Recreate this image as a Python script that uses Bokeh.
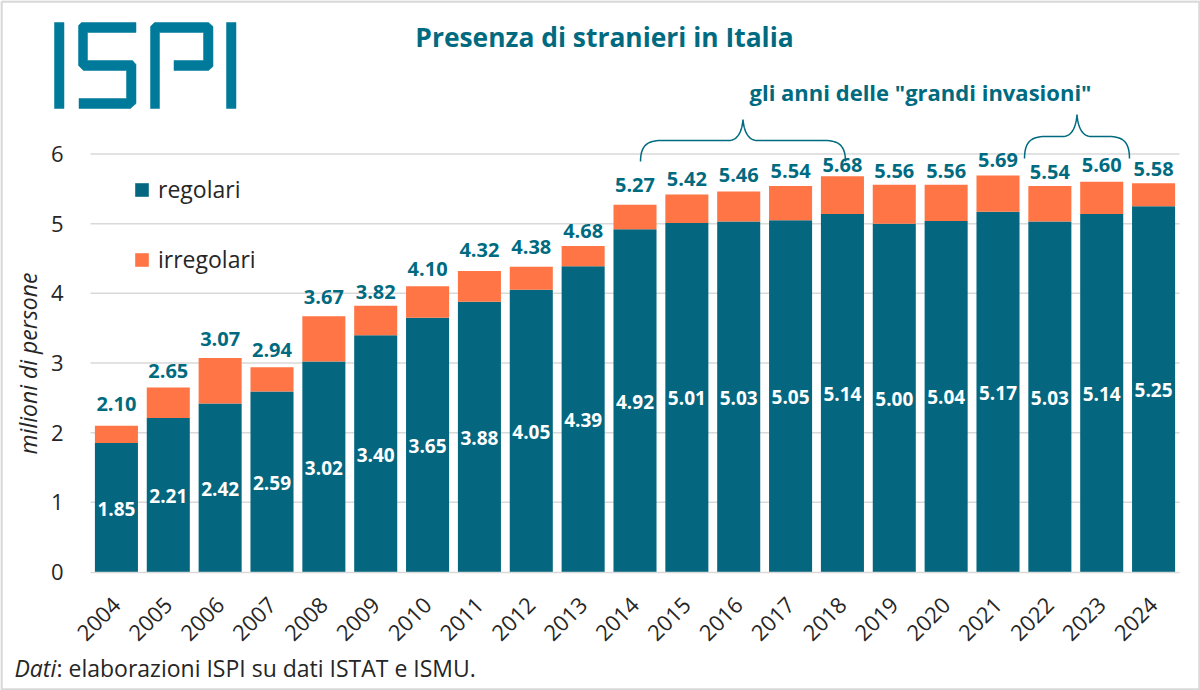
from bokeh.core.properties import value
from bokeh.embed import file_html
from bokeh.resources import INLINE
from bokeh.plotting import figure
from bokeh.models import (ColumnDataSource, FixedTicker, Label, LabelSet, Legend, LegendItem,
                          LinearAxis, PolyAnnotation, Range1d)

anni = [2004, 2005, 2006, 2007, 2008, 2009, 2010, 2011, 2012, 2013, 2014,
        2015, 2016, 2017, 2018, 2019, 2020, 2021, 2022, 2023, 2024]
regolari = [1.85, 2.21, 2.42, 2.59, 3.02, 3.40, 3.65, 3.88, 4.05, 4.39, 4.92,
            5.01, 5.03, 5.05, 5.14, 5.00, 5.04, 5.17, 5.03, 5.14, 5.25]
totale = [2.10, 2.65, 3.07, 2.94, 3.67, 3.82, 4.10, 4.32, 4.38, 4.68, 5.27,
          5.42, 5.46, 5.54, 5.68, 5.56, 5.56, 5.69, 5.54, 5.60, 5.58]
irregolari = [round(t - r, 2) for t, r in zip(totale, regolari)]
tacche_y = [0, 1, 2, 3, 4, 5, 6]
# hand-placed distance of each total label above its bar, in pixels
stacco_totale = [22, 16, 19, 17, 19, 14, 17, 21, 20, 15, 20, 15, 17, 15, 11, 14, 14, 16, 14, 17, 14]

TEAL = "#04677f"
ORANGE = "#ff7545"
LOGO = "#007a9a"
TITLE = "#006b80"
GRID = "#d9d9d9"
INK = "#262626"
FONT = "Open Sans"

src = ColumnDataSource(dict(
    anno=anni, regolari=regolari, irregolari=irregolari, totale=totale,
    mezzo=[r / 2 for r in regolari],
    stacco=stacco_totale,
    lab_r=[f"{v:.2f}" for v in regolari],
    lab_t=[f"{v:.2f}" for v in totale],
))

W, H = 1200, 690
# plot area of the original, in page pixels; the frame spans the whole canvas
# so that logo, title and braces can sit around the axes.
L, R, T, B = 90, 1179, 153.5, 571.5
xu = (R - L) / 21
yu = (B - T) / 6
p = figure(width=W, height=H, output_backend="svg", toolbar_location=None,
           x_range=Range1d(2003.5 - L / xu, 2003.5 + (W - L) / xu),
           y_range=Range1d((B - H) / yu, B / yu),
           x_axis_location=None, y_axis_location=None,
           min_border=0, background_fill_color="white", border_fill_color="white")
p.outline_line_color = None
p.xgrid.visible = False
p.ygrid.visible = False

griglia = p.segment(x0=[2003.5] * 6, x1=[2024.5] * 6, y0=tacche_y[1:], y1=tacche_y[1:],
                    line_color=GRID, line_width=1.5)

r = p.vbar_stack(["regolari", "irregolari"], x="anno", width=0.83, source=src,
                 color=[TEAL, ORANGE], line_color=None)

ax = LinearAxis(fixed_location=0, bounds=(2003.5, 2024.5), ticker=FixedTicker(ticks=anni))
ax.major_label_overrides = {a: str(a) for a in anni}
ax.major_label_orientation = 0.785
ax.major_label_text_font = FONT
ax.major_label_text_font_size = "22px"
ax.major_label_text_color = INK
ax.major_label_standoff = 23
ax.major_tick_line_color = None
ax.minor_tick_line_color = None
ax.axis_line_color = GRID
ax.axis_line_width = 1.5
p.add_layout(ax, "below")

ay = LinearAxis(fixed_location=2003.5, bounds=(0, 6), ticker=FixedTicker(ticks=tacche_y))
ay.major_label_text_font = FONT
ay.major_label_text_font_size = "22px"
ay.major_label_text_color = INK
ay.major_label_standoff = 21
ay.major_tick_line_color = None
ay.minor_tick_line_color = None
ay.axis_line_color = None
ay.axis_label = "milioni di persone"
ay.axis_label_text_font = FONT
ay.axis_label_text_font_style = "italic"
ay.axis_label_text_font_size = "23px"
ay.axis_label_text_color = INK
ay.axis_label_standoff = 4
p.add_layout(ay, "left")

p.add_layout(LabelSet(x="anno", y="mezzo", text="lab_r", source=src, text_align="center",
                      text_baseline="middle", y_offset=-1, text_color="white", text_font=value(FONT),
                      text_font_style="bold", text_font_size="19px"))
p.add_layout(LabelSet(x="anno", y="totale", text="lab_t", source=src, text_align="center",
                      text_baseline="middle", y_offset="stacco", text_color=TITLE, text_font=value(FONT),
                      text_font_style="bold", text_font_size="20px"))

legend = Legend(items=[LegendItem(label="regolari", renderers=[r[0]]),
                       LegendItem(label="irregolari", renderers=[r[1]])],
                location=(133, 415), orientation="vertical", spacing=38,
                glyph_width=17, glyph_height=17, label_standoff=8,
                background_fill_alpha=0, border_line_color=None,
                label_text_font=FONT, label_text_font_size="23px", label_text_color=INK,
                padding=0, margin=0)
p.add_layout(legend, "center")


def poly(points, color):
    p.add_layout(PolyAnnotation(xs=[a for a, _ in points], ys=[b for _, b in points],
                                xs_units="canvas", ys_units="canvas",
                                fill_color=color, fill_alpha=1, line_color=color, line_alpha=1,
                                line_width=0.5))


logo_shapes = [
    [(54, 22), (63.5, 22), (63.5, 108), (54, 108)],
    [(81, 22), (135.5, 22), (135.5, 32), (87, 32), (87, 60), (132, 60), (135.5, 64), (135.5, 103),
     (130, 108), (78.5, 108), (78.5, 98), (126, 98), (126, 70), (83, 70), (78, 65), (78, 25)],
    [(150, 108), (150, 26), (154, 22), (208, 22), (212.5, 26), (212.5, 66), (208, 70), (173.5, 70),
     (173.5, 60), (203, 60), (203, 32), (159, 32), (159, 108)],
    [(226, 22), (235.5, 22), (235.5, 108), (226, 108)],
]
for shape in logo_shapes:
    poly(shape, LOGO)


def outline(points, color, width):
    path = points + points[::-1]
    p.add_layout(PolyAnnotation(xs=[a for a, _ in path], ys=[b for _, b in path],
                                xs_units="canvas", ys_units="canvas",
                                fill_alpha=0, line_color=color, line_alpha=1, line_width=width))


def bez(p0, p1, p2, p3, n=14):
    out = []
    for i in range(n + 1):
        t = i / n
        u = 1 - t
        out.append((u**3 * p0[0] + 3 * u * u * t * p1[0] + 3 * u * t * t * p2[0] + t**3 * p3[0],
                    u**3 * p0[1] + 3 * u * u * t * p1[1] + 3 * u * t * t * p2[1] + t**3 * p3[1]))
    return out


def brace(x0, x1, tip, shoulder, bottom, color):
    c = (x0 + x1) / 2
    r_ = 21
    path = (bez((x0, bottom), (x0, shoulder + 4), (x0 + 8, shoulder), (x0 + r_, shoulder))
            + [(c - 14, shoulder)]
            + bez((c - 14, shoulder), (c - 6, shoulder), (c - 1, shoulder - 8), (c, tip))
            + bez((c, tip), (c + 1, shoulder - 8), (c + 6, shoulder), (c + 14, shoulder))
            + [(x1 - r_, shoulder)]
            + bez((x1 - r_, shoulder), (x1 - 8, shoulder), (x1, shoulder + 4), (x1, bottom)))
    outline(path, color, 1.5)


brace(640, 845, 119, 140, 161, TITLE)
brace(1024, 1129, 114, 136, 158, TITLE)
outline([(1, 1), (1199, 1), (1199, 689), (1, 689), (1, 1)], GRID, 2.5)


def text(s, x, y, size, color=INK, style="normal", align="left", baseline="middle"):
    p.add_layout(Label(x=x, y=y, x_units="canvas", y_units="canvas", text=s,
                       text_font=FONT, text_font_size=size, text_color=color,
                       text_font_style=style, text_align=align, text_baseline=baseline))


text("Presenza di stranieri in Italia", 604, 36, "26.4px", TITLE, "bold", "center")
text('gli anni delle "grandi invasioni"', 920, 91, "22px", TITLE, "bold", "center")
text("Dati", 14, 667, "23px", INK, "italic")
text(": elaborazioni ISPI su dati ISTAT e ISMU.", 56, 667, "23px", INK)

open("out.html", "w").write(file_html(p, INLINE))
